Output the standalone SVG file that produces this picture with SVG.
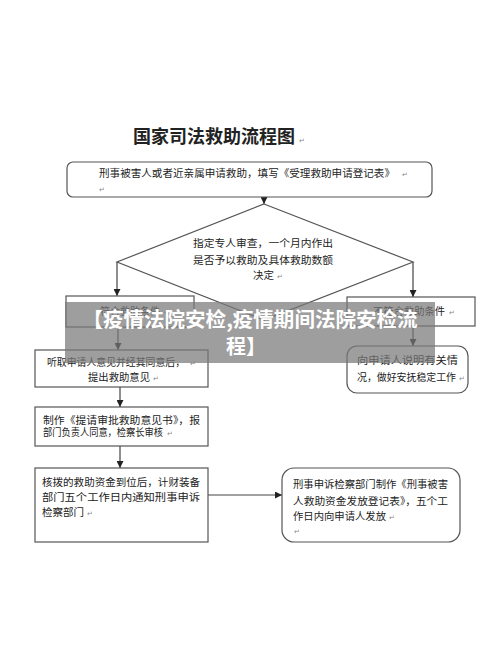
<svg xmlns="http://www.w3.org/2000/svg" width="500" height="666" viewBox="0 0 500 666">
<defs>
<marker id="ah" viewBox="0 0 10 10" refX="10" refY="5" markerWidth="7" markerHeight="7" markerUnits="userSpaceOnUse" orient="auto">
<path d="M0,0 L10,5 L0,10 z" fill="#222"/>
</marker>
<style>
.box{fill:#fff;stroke:#555;stroke-width:1.2}
.ln{stroke:#444;stroke-width:1.2;fill:none}
.t{font-family:"Noto Sans CJK SC","Noto Sans",sans-serif;font-size:10px;fill:#222}
.m{font-family:"DejaVu Sans",sans-serif;font-size:7px;fill:#888}
.ttl{font-family:"Noto Sans CJK SC",sans-serif;font-size:18px;font-weight:700;fill:#222}
.bn{font-family:"Noto Sans CJK SC","Noto Sans",sans-serif;font-size:20px;font-weight:700;fill:#fff}
</style>
</defs>
<rect width="500" height="666" fill="#fff"/>
<g id="title">
<text class="ttl" x="133" y="143" textLength="162" lengthAdjust="spacingAndGlyphs">国家司法救助流程图</text>
<text class="m" x="299" y="143">↵</text>
</g>
<g id="connectors">
<line class="ln" x1="264" y1="197" x2="264" y2="204" marker-end="url(#ah)"/>
<line class="ln" x1="117" y1="262" x2="117" y2="296" marker-end="url(#ah)"/>
<line class="ln" x1="413" y1="262" x2="413" y2="297" marker-end="url(#ah)"/>
<line class="ln" x1="118" y1="327" x2="118" y2="350" marker-end="url(#ah)"/>
<line class="ln" x1="120" y1="387" x2="120" y2="407" marker-end="url(#ah)"/>
<line class="ln" x1="120" y1="446" x2="120" y2="468" marker-end="url(#ah)"/>
<line class="ln" x1="208" y1="495" x2="282" y2="495" marker-end="url(#ah)"/>
<line class="ln" x1="413" y1="326" x2="413" y2="346" marker-end="url(#ah)"/>
</g>
<g id="n1">
<rect class="box" x="67" y="162" width="365" height="35" rx="6"/>
<text class="t" x="99" y="177" textLength="296" lengthAdjust="spacingAndGlyphs">刑事被害人或者近亲属申请救助，填写《受理救助申请登记表》</text>
<text class="m" x="402" y="177">↵</text>
<text class="m" x="99" y="192">↵</text>
</g>
<g id="n2">
<polygon class="box" points="264,204 413,262 264,320 117,262"/>
<text class="t" x="193" y="247" textLength="140" lengthAdjust="spacingAndGlyphs">指定专人审查，一个月内作出</text>
<text class="t" x="193" y="264" textLength="140" lengthAdjust="spacingAndGlyphs">是否予以救助及具体救助数额</text>
<text class="t" x="253" y="279" textLength="21" lengthAdjust="spacingAndGlyphs">决定</text>
<text class="m" x="277" y="279">↵</text>
</g>
<g id="n3">
<rect class="box" x="66" y="296" width="128" height="31"/>
<text class="t" x="100" y="315" textLength="60" lengthAdjust="spacingAndGlyphs">符合救助条件</text>
<text class="m" x="164" y="315">↵</text>
</g>
<g id="n4">
<rect class="box" x="347" y="297" width="128" height="29"/>
<text class="t" x="373" y="315" textLength="72" lengthAdjust="spacingAndGlyphs">不符合救助条件</text>
<text class="m" x="449" y="315">↵</text>
</g>
<g id="n5">
<rect class="box" x="35" y="350" width="173" height="37"/>
<text class="t" x="47" y="366" textLength="138" lengthAdjust="spacingAndGlyphs">听取申请人意见并经其同意后，</text>
<text class="m" x="190" y="366">↵</text>
<text class="t" x="88" y="381" textLength="62" lengthAdjust="spacingAndGlyphs">提出救助意见</text>
<text class="m" x="153" y="381">↵</text>
</g>
<g id="n6">
<rect class="box" x="35" y="407" width="173" height="39"/>
<text class="t" x="43" y="424" textLength="157" lengthAdjust="spacingAndGlyphs">制作《提请审批救助意见书》，报</text>
<text class="t" x="43" y="436" textLength="120" lengthAdjust="spacingAndGlyphs">部门负责人同意，检察长审核</text>
<text class="m" x="167" y="436">↵</text>
</g>
<g id="n7">
<rect class="box" x="35" y="468" width="173" height="74"/>
<text class="t" x="42" y="486" textLength="158" lengthAdjust="spacingAndGlyphs">核拨的救助资金到位后，计财装备</text>
<text class="t" x="42" y="501" textLength="158" lengthAdjust="spacingAndGlyphs">部门五个工作日内通知刑事申诉</text>
<text class="t" x="42" y="516" textLength="42" lengthAdjust="spacingAndGlyphs">检察部门</text>
<text class="m" x="87" y="516">↵</text>
</g>
<g id="n8">
<rect class="box" x="282" y="468" width="178" height="74" rx="12"/>
<text class="t" x="293" y="488" textLength="155" lengthAdjust="spacingAndGlyphs">刑事申诉检察部门制作《刑事被害</text>
<text class="t" x="293" y="505" textLength="155" lengthAdjust="spacingAndGlyphs">人救助资金发放登记表》，五个工</text>
<text class="t" x="293" y="520" textLength="93" lengthAdjust="spacingAndGlyphs">作日内向申请人发放</text>
<text class="m" x="389" y="520">↵</text>
<text class="m" x="294" y="534">↵</text>
</g>
<g id="n9">
<rect class="box" x="347" y="346" width="121" height="47" rx="10"/>
<text class="t" x="357" y="364" textLength="101" lengthAdjust="spacingAndGlyphs">向申请人说明有关情</text>
<text class="t" x="357" y="381" textLength="99" lengthAdjust="spacingAndGlyphs">况，做好安抚稳定工作</text>
<text class="m" x="459" y="381">↵</text>
</g>
<g id="banner">
<rect x="65" y="302" width="370" height="61" fill="#787878" fill-opacity="0.72"/>
<text class="bn" x="250" y="327" text-anchor="middle" textLength="335" lengthAdjust="spacingAndGlyphs">【疫情法院安检,疫情期间法院安检流</text>
<text class="bn" x="246" y="354" text-anchor="middle">程】</text>
</g>
</svg>
